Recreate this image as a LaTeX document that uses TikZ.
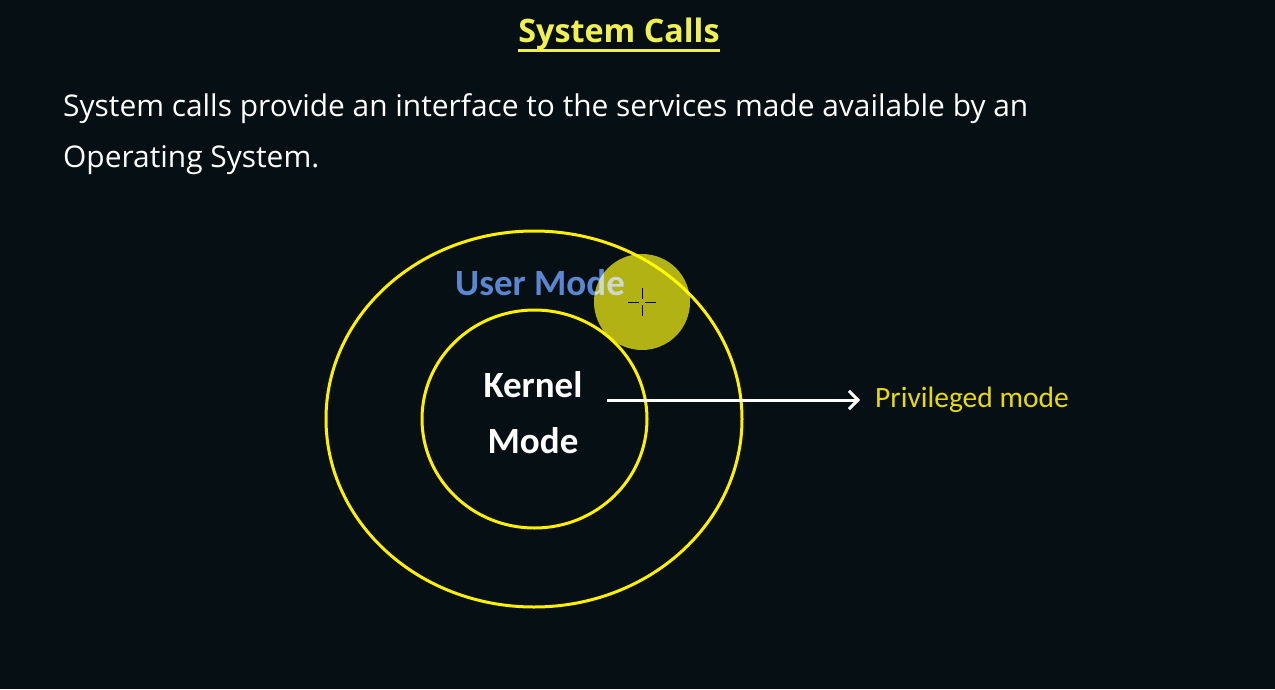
\documentclass[tikz,border=0pt]{standalone}
\usepackage{fontspec}
\setmainfont{Open Sans}
\newfontfamily\calfont{Carlito}
\usetikzlibrary{arrows.meta}
\definecolor{bgc}{RGB}{6,16,20}
\definecolor{ylw}{RGB}{255,240,0}
\definecolor{ttl}{RGB}{240,240,80}
\definecolor{umode}{RGB}{90,135,208}
\definecolor{priv}{RGB}{232,218,10}
\definecolor{hl}{RGB}{176,172,0}
\tikzset{
  ring/.style={draw=ylw, line width=3pt},
  bodytext/.style={text=white, anchor=base west, inner sep=0pt, font=\fontsize{29.9}{34}\selectfont},
  modelabel/.style={font=\calfont\bfseries\fontsize{37}{44}\selectfont, inner sep=0pt},
}
\begin{document}
\begin{tikzpicture}[x=1pt,y=-1pt]
\fill[bgc] (0,0) rectangle (1275,689);
\useasboundingbox (0,0) rectangle (1275,689);
% title
\node[text=ttl, font=\bfseries\fontsize{32.3}{36}\selectfont, inner sep=0pt, anchor=base] (title) at (619,42) {System Calls};
\draw[ttl, line width=3pt] (title.west |- 0,50) -- (title.east |- 0,50);
% body
\node[bodytext] (l1) at (63,116) {System calls provide an interface to the services made available by an};
\node[bodytext] (l2) at (63,167) {Operating System.};
% circles
\draw[ring] (534,419) ellipse [x radius=208, y radius=188];
\draw[ring] (534.5,419) ellipse [x radius=112.5, y radius=109];
\node[modelabel, text=umode, anchor=base] (user) at (540,295) {User Mode};
\node[modelabel, text=white, anchor=base] (k1) at (533,397) {Kernel};
\node[modelabel, text=white, anchor=base] (k2) at (533,453) {Mode};
\node[text=priv, font=\calfont\fontsize{29.5}{34}\selectfont, inner sep=0pt, anchor=west] (priv) at (875,400) {Privileged mode};
\coordinate (astart) at (607,400);
\draw[white, line width=3pt, -{Straight Barb[length=9pt,width=18pt,line width=3pt]}] (astart) -- (priv.west -| 860,400);
% cursor highlight
\fill[hl, blend mode=screen] (642,302) circle [radius=48];
\begin{scope}[black, line width=1pt]
\draw (628,302) -- (639,302); \draw (645,302) -- (656,302);
\draw (642,288) -- (642,299); \draw (642,305) -- (642,316);
\end{scope}
\end{tikzpicture}
\end{document}
